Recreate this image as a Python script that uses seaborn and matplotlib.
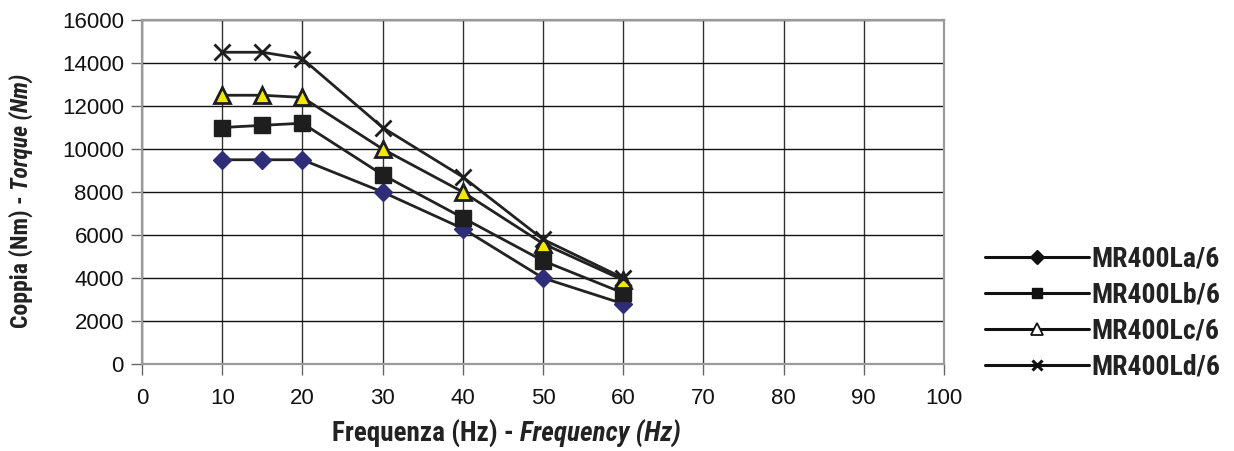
import matplotlib
matplotlib.use("Agg")
import matplotlib.pyplot as plt
from matplotlib.lines import Line2D
import seaborn as sns
import pandas as pd

freq = [10, 15, 20, 30, 40, 50, 60]
la = [9500, 9500, 9500, 8000, 6300, 4000, 2800]
lb = [11000, 11100, 11200, 8800, 6800, 4800, 3300]
lc = [12500, 12500, 12400, 10000, 8000, 5600, 3900]
ld = [14500, 14500, 14200, 11000, 8700, 5800, 4000]
series_names = ["MR400La/6", "MR400Lb/6", "MR400Lc/6", "MR400Ld/6"]
x_ticks = [0, 10, 20, 30, 40, 50, 60, 70, 80, 90, 100]
y_ticks = [0, 2000, 4000, 6000, 8000, 10000, 12000, 14000, 16000]

sns.set_style("white")
narrow = ["Roboto Condensed", "DejaVu Sans"]
plt.rcParams["font.family"] = ["Liberation Sans", "DejaVu Sans"]

fig = plt.figure(figsize=(12.34, 4.51), dpi=100)
ax = fig.add_axes([142 / 1234, 1 - 364 / 451, (944 - 142) / 1234, (364 - 20) / 451])

styles = [
    dict(marker="D", markersize=9, markerfacecolor="#2e2d78", markeredgecolor="#2e2d78", markeredgewidth=1),
    dict(marker="s", markersize=11, markerfacecolor="#1e1e1e", markeredgecolor="#1e1e1e", markeredgewidth=1),
    dict(marker="^", markersize=11, markerfacecolor="#f2e800", markeredgecolor="#1e1e1e", markeredgewidth=2),
    dict(marker="x", markersize=11, markerfacecolor="none", markeredgecolor="#1e1e1e", markeredgewidth=2),
]
legend_styles = [
    dict(marker="D", markersize=7.5, markerfacecolor="#111", markeredgecolor="#111"),
    dict(marker="s", markersize=7.5, markerfacecolor="#111", markeredgecolor="#111"),
    dict(marker="^", markersize=9, markerfacecolor="white", markeredgecolor="#111", markeredgewidth=1.3),
    dict(marker="x", markersize=7.5, markerfacecolor="none", markeredgecolor="#111", markeredgewidth=2.2),
]

for name, vals, st in zip(series_names, [la, lb, lc, ld], styles):
    df = pd.DataFrame({"f": freq, "t": vals})
    sns.lineplot(data=df, x="f", y="t", ax=ax, color="#222222", linewidth=2,
                 zorder=3, legend=False, **st)

ax.set_xlim(0, 100)
ax.set_ylim(0, 16000)
ax.set_xticks(x_ticks)
ax.set_yticks(y_ticks)
ax.grid(True, axis="y", color="#111111", linewidth=1.0)
ax.grid(True, axis="x", color="#333333", linewidth=1.0)
for s in ax.spines.values():
    s.set_color("#9a9a9a")
    s.set_linewidth(1.6)
ax.tick_params(axis="both", which="major", bottom=True, left=True, length=8, width=1,
               color="#666666", labelsize=16, labelcolor="#111111", direction="out")
ax.tick_params(axis="x", pad=9)
ax.tick_params(axis="y", pad=5)

ax.set_xlabel("")
ax.set_ylabel("")
xc = 520 / 1234
fig.text(xc, 1 - 434 / 451, "Frequenza (Hz) - ", ha="right", va="center",
         fontsize=19.5, fontweight="bold", family=narrow, color="#222222")
fig.text(xc, 1 - 434 / 451, "Frequency (Hz)", ha="left", va="center",
         fontsize=19.5, fontweight="bold", fontstyle="italic", family=narrow, color="#222222")
yc = 1 - 190 / 451
fig.text(21 / 1234, yc, "Coppia (Nm) - ", ha="center", va="top", rotation=90,
         fontsize=17, fontweight="bold", family=narrow, color="#222222")
fig.text(21 / 1234, yc, "Torque (Nm)", ha="center", va="bottom", rotation=90,
         fontsize=17, fontweight="bold", fontstyle="italic", family=narrow, color="#222222")

handles = [Line2D([0], [0], color="#111111", linewidth=2.2, **ls) for ls in legend_styles]
leg = fig.legend(handles, series_names, loc="center left",
                 bbox_to_anchor=(985 / 1234, 1 - 313 / 451), frameon=False,
                 borderpad=0, borderaxespad=0,
                 handlelength=3.75, handletextpad=0.08, labelspacing=0.33,
                 prop=dict(family=narrow, weight="bold", size=20))
for t in leg.get_texts():
    t.set_color("#222222")

fig.savefig("out.png", dpi=100)
